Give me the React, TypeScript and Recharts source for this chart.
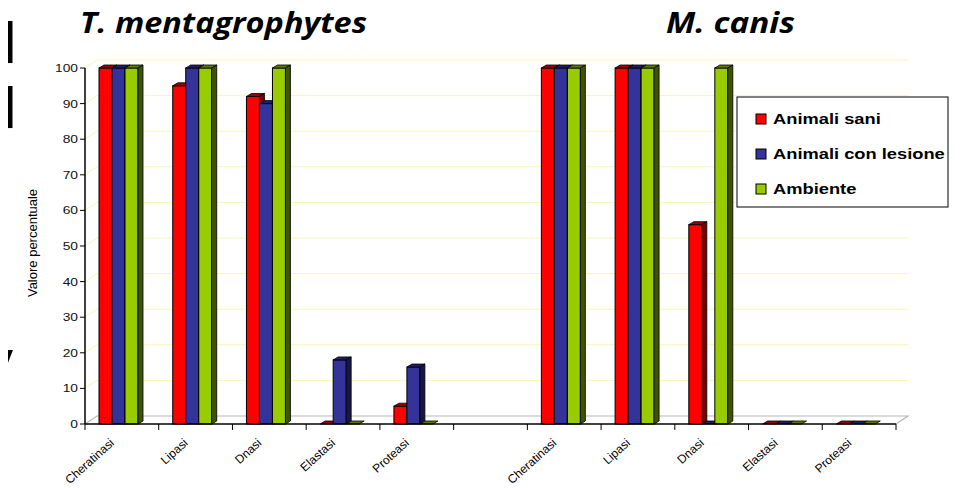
import React from 'react';
import { BarChart, Bar, XAxis, YAxis, CartesianGrid } from 'recharts';

const categories = ['Cheratinasi', 'Lipasi', 'Dnasi', 'Elastasi', 'Proteasi', '', 'Cheratinasi', 'Lipasi', 'Dnasi', 'Elastasi', 'Proteasi'];
const sani = [100, 95, 92, 0, 5, null, 100, 100, 56, 0, 0];
const lesione = [100, 100, 90, 18, 16, null, 100, 100, 0, 0, 0];
const ambiente = [100, 100, 100, 0, 0, null, 100, 100, 100, 0, 0];
const yTicks = [0, 10, 20, 30, 40, 50, 60, 70, 80, 90, 100];
const seriesNames = ['Animali sani', 'Animali con lesione', 'Ambiente'];
const seriesKeys = ['sani', 'lesione', 'ambiente'];
const seriesColors = ['#FF0000', '#333399', '#99CC00'];
const seriesTop = ['#990000', '#1f1f66', '#5c7a00'];
const seriesSide = ['#7a0000', '#161647', '#3f5400'];
const titles = ['T. mentagrophytes', 'M. canis'];
const yLabel = 'Valore percentuale';

const data = categories.map((name, i) => ({ name, sani: sani[i], lesione: lesione[i], ambiente: ambiente[i] }));

const W = 973;
const H = 488;
const M = { top: 68, right: 77, bottom: 0, left: 45 };
const YW = 40;
const XH = 64;
const PLOT_L = M.left + YW;
const PLOT_R = W - M.right;
const PLOT_B = H - M.bottom - XH;
const BAND = (PLOT_R - PLOT_L) / categories.length;
const DX = 12;
const DY = 8;
const BDX = 5;
const BDY = 3;
const SX = 1.2;
const FONT = 'Arial, "Liberation Sans", sans-serif';
const FRAG_FONT = '"DejaVu Sans", sans-serif';

const makeShape = (idx: number) => (props: any) => {
  const { x, y, width, height, payload } = props;
  if (payload == null || payload[seriesKeys[idx]] == null) return null;
  const xx = x - 3;
  const h = Math.max(0, height);
  const top = `${xx},${y} ${xx + BDX},${y - BDY} ${xx + width + BDX},${y - BDY} ${xx + width},${y}`;
  const side = `${xx + width},${y} ${xx + width + BDX},${y - BDY} ${xx + width + BDX},${y + h - BDY} ${xx + width},${y + h}`;
  return (
    <g>
      {h > 0 && <rect x={xx} y={y} width={width} height={h} fill={seriesColors[idx]} stroke="#000" strokeWidth={1} />}
      <polygon points={top} fill={seriesTop[idx]} stroke="#000" strokeWidth={0.8} />
      {h > 0 && <polygon points={side} fill={seriesSide[idx]} stroke="#000" strokeWidth={0.8} />}
    </g>
  );
};

const gridLine = (props: any) => {
  const { x1, x2, y1 } = props;
  const isFloor = Math.abs(y1 - PLOT_B) < 1;
  if (isFloor) {
    return (
      <path key={`g-${y1}`} d={`M${x1},${y1} L${x1 + DX},${y1 - DY} L${x2 + DX},${y1 - DY} L${x2},${y1}`} fill="none" stroke="#b8b8b8" strokeWidth={1.2} />
    );
  }
  return (
    <path key={`g-${y1}`} d={`M${x1},${y1} L${x1 + DX},${y1 - DY} L${x2 + DX},${y1 - DY}`} fill="none" stroke="#f7f7b8" strokeWidth={1} />
  );
};

const XTick = (props: any) => {
  const { x, payload, index } = props;
  const left = x - BAND / 2;
  const right = x + BAND / 2;
  const ax = x - 7;
  const ay = PLOT_B + 20;
  return (
    <g>
      <line x1={left} y1={PLOT_B} x2={left} y2={PLOT_B + 6} stroke="#000" />
      {index === categories.length - 1 && <line x1={right} y1={PLOT_B} x2={right} y2={PLOT_B + 6} stroke="#000" />}
      <text x={ax} y={ay} transform={`rotate(-42 ${ax} ${ay})`} textAnchor="end" fontSize={12} fontFamily={FONT} fill="#000">
        {payload.value}
      </text>
    </g>
  );
};

const YTick = (props: any) => {
  const { x, y, payload } = props;
  return (
    <text transform={`translate(${x},${y}) scale(${SX},1)`} dy={4} textAnchor="end" fontSize={11.5} fontFamily={FONT} fill="#111">
      {payload.value}
    </text>
  );
};

const LegendBox = () => (
  <svg width={213} height={112} style={{ position: 'absolute', left: 736, top: 96 }}>
    <rect x={1} y={1} width={211} height={110} fill="#fff" stroke="#000" strokeWidth={1} />
    {seriesNames.map((n, i) => (
      <g key={n}>
        <rect x={20} y={18 + i * 35} width={10} height={10} fill={seriesColors[i]} stroke="#000" strokeWidth={1} />
        <text transform={`translate(37,${28 + i * 35}) scale(1.22,1)`} fontSize={15} fontWeight="bold" fontFamily={FONT} fill="#000">
          {n}
        </text>
      </g>
    ))}
  </svg>
);

export default function App() {
  return (
    <div style={{ position: 'relative', left: -8, top: -8, width: W, height: H, overflow: 'hidden', background: '#fff' }}>
      <BarChart width={W} height={H} data={data} margin={M} barCategoryGap={17} barGap={0}>
        <CartesianGrid vertical={false} horizontal={gridLine} />
        <XAxis
          dataKey="name"
          interval={0}
          height={XH}
          tick={<XTick />}
          tickLine={false}
          axisLine={{ stroke: '#000', strokeWidth: 1.5 }}
        />
        <YAxis
          width={YW}
          domain={[0, 100]}
          ticks={yTicks}
          tick={<YTick />}
          tickSize={5}
          tickLine={{ stroke: '#000' }}
          axisLine={{ stroke: '#000', strokeWidth: 1.5 }}
        />
        {seriesKeys.map((k, i) => (
          <Bar key={k} dataKey={k} name={seriesNames[i]} fill={seriesColors[i]} shape={makeShape(i)} isAnimationActive={false} />
        ))}
      </BarChart>
      <LegendBox />
      <svg width={W} height={H} style={{ position: 'absolute', left: 0, top: 0, pointerEvents: 'none' }}>
        <text x={-2} y={63} fontSize={56} fontWeight="bold" fontFamily={FRAG_FONT} fill="#000">l</text>
        <text x={-2} y={128} fontSize={56} fontWeight="bold" fontFamily={FRAG_FONT} fill="#000">l</text>
        <text x={-20} y={378} fontSize={52} fontWeight="bold" fontFamily={FRAG_FONT} fill="#000">y</text>
        <text x={80} y={33} fontSize={28} fontStyle="italic" fontWeight="bold" fontFamily='"Open Sans", sans-serif' textLength={287} lengthAdjust="spacingAndGlyphs" fill="#000">
          {titles[0]}
        </text>
        <text x={666} y={33} fontSize={28} fontStyle="italic" fontWeight="bold" fontFamily='"Open Sans", sans-serif' textLength={129} lengthAdjust="spacingAndGlyphs" fill="#000">
          {titles[1]}
        </text>
        <g transform="translate(37,243)">
          <text transform="rotate(-90)" textAnchor="middle" fontSize={13} fontFamily={FONT} fill="#000">
            {yLabel}
          </text>
        </g>
      </svg>
    </div>
  );
}
